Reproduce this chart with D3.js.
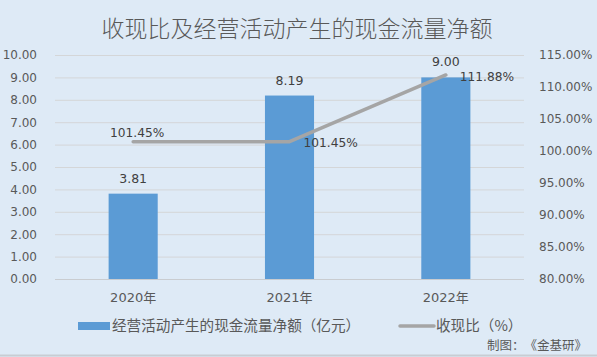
<!DOCTYPE html>
<html><head><meta charset="utf-8">
<script src="https://cdn.jsdelivr.net/npm/d3@7"></script>
<style>
html,body{margin:0;padding:0;background:#deeaf6;}
svg{display:block;}
text{font-family:"DejaVu Sans","Noto Sans CJK SC",sans-serif;text-spacing-trim:space-all;}
</style></head>
<body>
<script>
const categories = ["2020年", "2021年", "2022年"];
const cashFlow = [3.81, 8.19, 9.00];
const ratio = [101.45, 101.45, 111.88];
const leftTicks = [0,1,2,3,4,5,6,7,8,9,10];
const rightTicks = [80,85,90,95,100,105,110,115];
const title = "收现比及经营活动产生的现金流量净额";
const legendBar = "经营活动产生的现金流量净额（亿元）";
const legendLine = "收现比（%）";
const source = "制图：《金基研》";

const W = 597, H = 357;
const m = {l:55, r:73, t:55, b:78};
const svg = d3.select("body").append("svg").attr("width", W).attr("height", H);
svg.append("rect").attr("width", W).attr("height", H).attr("fill", "#deeaf6");
svg.append("line").attr("x1",0).attr("x2",W).attr("y1",H-1.5).attr("y2",H-1.5).attr("stroke","#c8cdd3").attr("stroke-width",2);

const x = d3.scaleBand().domain(categories).range([m.l, W - m.r]).paddingInner(0.686).paddingOuter(0.343);
const yL = d3.scaleLinear().domain([0,10]).range([H - m.b, m.t]);
const yR = d3.scaleLinear().domain([80,115]).range([H - m.b, m.t]);

const cjk = '"Noto Sans CJK SC", sans-serif';

svg.append("text").attr("x", 297).attr("y", 37).attr("text-anchor","middle")
  .attr("font-size", 23).attr("font-weight", 300).attr("fill","#595959")
  .style("font-family", cjk).text(title);

// gridlines
svg.append("g").selectAll("line").data(leftTicks).join("line")
  .attr("x1", m.l).attr("x2", W - m.r)
  .attr("y1", d => yL(d) + 0.5).attr("y2", d => yL(d) + 0.5)
  .attr("stroke", d => d === 0 ? "#c9ccd0" : "#d4d6d8").attr("stroke-width", 1);

// left axis labels
const axL = svg.append("g").attr("transform", `translate(${m.l},0)`)
  .call(d3.axisLeft(yL).tickValues(leftTicks).tickFormat(d3.format(".2f")).tickSize(0).tickPadding(18));
axL.select(".domain").remove();
axL.selectAll("text").attr("font-size", 12).attr("fill", "#595959").attr("font-family", null);

const axR = svg.append("g").attr("transform", `translate(${W - m.r},0)`)
  .call(d3.axisRight(yR).tickValues(rightTicks).tickFormat(d => d.toFixed(2) + "%").tickSize(0).tickPadding(15));
axR.select(".domain").remove();
axR.selectAll("text").attr("font-size", 12).attr("fill", "#595959").attr("font-family", null);

const axB = svg.append("g").attr("transform", `translate(0,${H - m.b})`)
  .call(d3.axisBottom(x).tickSize(0).tickPadding(14));
axB.select(".domain").remove();
axB.selectAll("text").attr("font-size", 13).attr("fill", "#595959").attr("font-family", null);

// bars
svg.append("g").selectAll("rect").data(cashFlow).join("rect")
  .attr("x", (d,i) => x(categories[i])).attr("width", x.bandwidth())
  .attr("y", d => yL(d)).attr("height", d => yL(0) - yL(d))
  .attr("fill", "#5b9bd5");

svg.append("g").selectAll("text").data(cashFlow).join("text")
  .attr("x", (d,i) => x(categories[i]) + x.bandwidth()/2)
  .attr("y", d => yL(d) - 11).attr("text-anchor","middle")
  .attr("font-size", 12.5).attr("fill", "#404040").text(d => d.toFixed(2));

// line
const cx = i => x(categories[i]) + x.bandwidth()/2;
const line = d3.line().x((d,i) => cx(i)).y(d => yR(d));
svg.append("path").datum(ratio).attr("d", line).attr("fill","none")
  .attr("stroke", "#a5a5a5").attr("stroke-width", 3.5).attr("stroke-linecap","round").attr("stroke-linejoin","round");

const lblPos = [{dx:4, dy:-5, a:"middle"}, {dx:14, dy:5, a:"start"}, {dx:14, dy:6, a:"start"}];
svg.append("g").selectAll("text").data(ratio).join("text")
  .attr("x", (d,i) => cx(i) + lblPos[i].dx)
  .attr("y", (d,i) => yR(d) + lblPos[i].dy)
  .attr("text-anchor", (d,i) => lblPos[i].a)
  .attr("font-size", 12.2).attr("fill", "#404040").text(d => d.toFixed(2) + "%");

// legend
svg.append("rect").attr("x", 78).attr("y", 322).attr("width", 32).attr("height", 8).attr("fill", "#5b9bd5");
svg.append("text").attr("x", 112).attr("y", 331).attr("font-size", 14.6).attr("fill", "#595959")
  .style("font-family", cjk).text(legendBar);
svg.append("line").attr("x1", 400).attr("x2", 434).attr("y1", 326).attr("y2", 326)
  .attr("stroke", "#a5a5a5").attr("stroke-width", 3.5).attr("stroke-linecap","round");
svg.append("text").attr("x", 436).attr("y", 331).attr("font-size", 14.6).attr("fill", "#595959")
  .style("font-family", cjk).text(legendLine);

svg.append("text").attr("x", 587).attr("y", 350).attr("text-anchor","end")
  .attr("font-size", 12.5).attr("fill", "#595959").style("font-family", cjk).text(source);
</script>
</body></html>
